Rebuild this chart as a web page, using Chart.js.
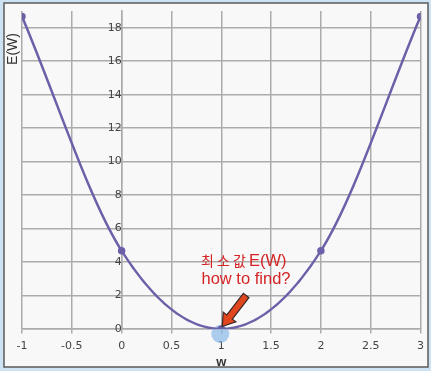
<!DOCTYPE html>
<html>
<head>
<meta charset="utf-8">
<script src="https://cdn.jsdelivr.net/npm/chart.js@4"></script>
<style>
  html, body { margin: 0; padding: 0; background: #cde2f2; }
  #wrap { width: 431px; height: 371px; }
</style>
</head>
<body>
<div id="wrap"><canvas id="c" width="431" height="371"></canvas></div>
<script>
// ---- data ----
const wValues = [-1, 0, 1, 2, 3];
const eValues = [18.67, 4.67, 0, 4.67, 18.67];
const minPoint = [1, 0];
const xTickStep = 0.5;
const yTickStep = 2;
const annotationLines = ['최소값 E(W)', 'how to find?'];
const arrowTail = [1.25, 2.0];
const arrowHead = [1.01, 0.15];

const points = wValues.map((w, i) => ({ x: w, y: eValues[i] }));

const framePlugin = {
  id: 'frame',
  beforeDraw(chart) {
    const ctx = chart.ctx;
    ctx.save();
    ctx.fillStyle = '#cde2f2';
    ctx.fillRect(0, 0, chart.width, chart.height);
    ctx.fillStyle = '#f8f8f8';
    ctx.fillRect(4, 3, 424, 364);
    ctx.strokeStyle = '#5a5a5a';
    ctx.lineWidth = 1.5;
    ctx.strokeRect(4, 3, 424, 364);
    ctx.restore();
  }
};

const overlayPlugin = {
  id: 'overlay',
  beforeDatasetsDraw(chart) {
    const ctx = chart.ctx;
    const xs = chart.scales.x, ys = chart.scales.y;
    const px = xs.getPixelForValue(minPoint[0]);
    const py = ys.getPixelForValue(minPoint[1]);
    ctx.save();
    ctx.fillStyle = 'rgba(130,180,230,0.65)';
    ctx.beginPath();
    ctx.arc(px - 1, py + 5, 9, 0, Math.PI * 2);
    ctx.fill();
    ctx.restore();
  },
  afterDraw(chart) {
    const ctx = chart.ctx;
    const xs = chart.scales.x, ys = chart.scales.y;
    ctx.save();
    // axis titles
    ctx.fillStyle = '#333';
    ctx.font = '14px "Liberation Sans", Arial, sans-serif';
    ctx.textAlign = 'center';
    ctx.textBaseline = 'middle';
    ctx.save();
    ctx.translate(13, 49);
    ctx.rotate(-Math.PI / 2);
    ctx.fillText('E(W)', 0, 0);
    ctx.restore();
    ctx.font = 'bold 13px "Liberation Sans", Arial, sans-serif';
    ctx.fillText('w', xs.getPixelForValue(minPoint[0]), 362);

    // annotation text (line 1: spaced Korean word + formula)
    ctx.fillStyle = '#d42424';
    const parts = annotationLines[0].split(' ');
    ctx.textAlign = 'left';
    ctx.font = '14px "Noto Sans CJK KR", sans-serif';
    Array.from(parts[0]).forEach((ch, i) => ctx.fillText(ch, 201 + i * 16, 261));
    ctx.font = '16.5px "Liberation Sans", Arial, sans-serif';
    ctx.fillText(parts[1], 249, 261);
    ctx.textAlign = 'center';
    ctx.fillText(annotationLines[1], 246, 279);

    // arrow
    const tx = xs.getPixelForValue(arrowTail[0]), ty = ys.getPixelForValue(arrowTail[1]);
    const hx = xs.getPixelForValue(arrowHead[0]), hy = ys.getPixelForValue(arrowHead[1]);
    const ang = Math.atan2(hy - ty, hx - tx);
    const len = Math.hypot(hx - tx, hy - ty);
    ctx.translate(tx, ty);
    ctx.rotate(ang);
    const headLen = 12, shaft = 3.5, headW = 8;
    ctx.beginPath();
    ctx.moveTo(0, -shaft);
    ctx.lineTo(len - headLen, -shaft);
    ctx.lineTo(len - headLen, -headW);
    ctx.lineTo(len, 0);
    ctx.lineTo(len - headLen, headW);
    ctx.lineTo(len - headLen, shaft);
    ctx.lineTo(0, shaft);
    ctx.closePath();
    ctx.fillStyle = '#e2461f';
    ctx.fill();
    ctx.strokeStyle = '#3a2a2a';
    ctx.lineWidth = 1.2;
    ctx.stroke();
    ctx.restore();
  }
};

new Chart(document.getElementById('c'), {
  type: 'scatter',
  data: {
    datasets: [{
      data: points,
      showLine: true,
      borderColor: '#6d5fa8',
      backgroundColor: '#6d5fa8',
      borderWidth: 2.5,
      pointRadius: 2.5,
      pointHoverRadius: 2.5,
      cubicInterpolationMode: 'monotone'
    }]
  },
  options: {
    responsive: false,
    animation: false,
    devicePixelRatio: 1,
    layout: { autoPadding: false, padding: { left: 22, right: 9, top: 11, bottom: 42 } },
    plugins: { legend: { display: false }, tooltip: { enabled: false } },
    scales: {
      x: {
        type: 'linear',
        min: -1, max: 3,
        position: { y: 0 },
        grid: { color: '#ababab', lineWidth: 1.5, drawTicks: true, tickLength: 4, tickColor: '#ababab' },
        border: { color: '#ababab', width: 1.5 },
        ticks: {
          stepSize: xTickStep,
          padding: 7,
          color: '#444',
          font: { size: 11, family: '"DejaVu Sans", sans-serif' },
          maxRotation: 0,
          callback: v => String(v)
        }
      },
      y: {
        type: 'linear',
        min: 0, max: 19,
        position: { x: 0 },
        grid: { color: '#ababab', lineWidth: 1.5, drawTicks: true, tickLength: 7, tickColor: 'rgba(0,0,0,0)' },
        border: { color: '#ababab', width: 1.5 },
        ticks: {
          stepSize: yTickStep,
          includeBounds: false,
          padding: 3,
          color: '#444',
          font: { size: 11, family: '"DejaVu Sans", sans-serif' },
          callback: v => String(v)
        }
      }
    }
  },
  plugins: [framePlugin, overlayPlugin]
});
</script>
</body>
</html>
